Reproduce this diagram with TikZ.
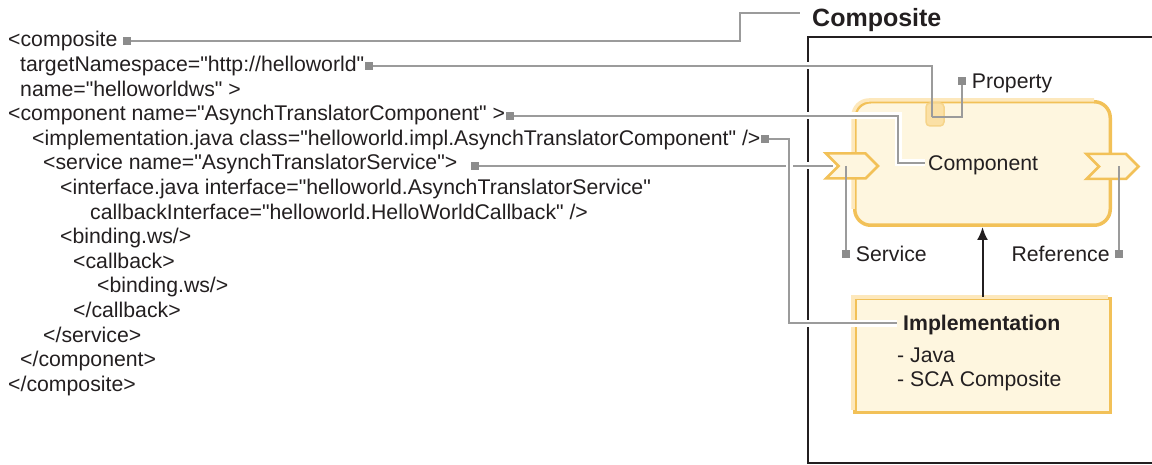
\documentclass[tikz,border=0pt]{standalone}
\usepackage{fontspec}
\setmainfont{Liberation Sans}[Ligatures=TeXOff]
\usetikzlibrary{positioning, arrows.meta, calc, shapes.symbols}
\definecolor{SCAink}{RGB}{35,31,32}
\definecolor{SCAgray}{RGB}{155,155,155}
\definecolor{SCAsq}{RGB}{140,140,140}
\definecolor{SCAfill}{RGB}{254,246,223}
\definecolor{SCAedge}{RGB}{242,193,88}
\definecolor{SCAlight}{RGB}{253,232,188}
\definecolor{SCAtab}{RGB}{251,224,165}
\tikzset{
  xmlline/.style={anchor=base west, inner sep=0pt, text=SCAink, font=\fontsize{21.25}{25}\selectfont},
  lbl/.style={inner sep=0pt, text height=15pt, text depth=0pt, text=SCAink, font=\fontsize{21.25}{25}\selectfont},
  endsq/.style={rectangle, fill=SCAsq, minimum size=8pt, inner sep=0pt},
  leadplain/.style={SCAgray, line width=2pt},
  lead/.style={leadplain, preaction={draw=white, line width=7pt}},
  box/.style={rectangle, fill=SCAfill, draw=SCAedge, line width=3.5pt, inner sep=0pt},
  bevel/.style={SCAlight, line width=3.5pt},
  port/.style={signal, signal from=west, signal to=east, signal pointer angle=90,
    fill=SCAfill, draw=SCAedge, line width=2.5pt, minimum width=52pt, minimum height=25pt, inner sep=0pt},
  cframe/.style={SCAink, line width=2pt},
  uses/.style={-{Latex[length=13pt, width=11pt]}, SCAink, line width=2pt},
}

\begin{document}
\begin{tikzpicture}[x=1pt, y=-1pt]
    \useasboundingbox (0,0) rectangle (1152,465);
    \draw[cframe] (1152,37) -- (808,37) -- (808,463) -- (1152,463);
    \node[anchor=base west, inner sep=0pt, text=SCAink, font=\bfseries\fontsize{25}{30}\selectfont] (title) at (812,27) {Composite};
    \coordinate (titleEnd) at (800,13);

    % component and implementation
    \node[box, rounded corners=16pt, minimum width=255.5pt, minimum height=123.5pt] (compBox) at (982.5,163.5) {};
    \draw[bevel, rounded corners=16pt] ([yshift=18pt]compBox.south west) -- (compBox.north west) -- ([xshift=-18pt]compBox.north east);
    \node[box, minimum width=255.5pt, minimum height=113.5pt] (implBox) at (982.5,355.5) {};
    \draw[bevel] ([yshift=4pt]implBox.south west) -- (implBox.north west) -- ([xshift=-4pt]implBox.north east);
    \node[rectangle, rounded corners=4pt, fill=SCAtab, draw=SCAedge!70, line width=1.5pt, minimum width=18pt, minimum height=23pt, inner sep=0pt] (propTab) at (935,114.5) {};
    \node[port] (svcPort) at (852,166) {};
    \node[port] (refPort) at (1112.5,166.5) {};

    \node[lbl, anchor=west] (compLbl) at (928,163) {Component};
    \node[lbl, anchor=west, font=\bfseries\fontsize{21.25}{25}\selectfont] (implTitle) at (903,323) {Implementation};
    \node[lbl, anchor=west] (implJava) at (897,355) {- Java};
    \node[lbl, anchor=west] (implSca) at (897,379) {- SCA Composite};

    % xml source
    \node[xmlline] (l1) at (8,47) {<composite};
    \node[xmlline] (l2) at (20,71.6) {targetNamespace="http://helloworld"};
    \node[xmlline] (l3) at (20,96.2) {name="helloworldws" >};
    \node[xmlline] (l4) at (8,120.8) {<component name="AsynchTranslatorComponent" >};
    \node[xmlline] (l5) at (32,145.4) {<implementation.java class="helloworld.impl.AsynchTranslatorComponent" />};
    \node[xmlline] (l6) at (43,170) {<service name="AsynchTranslatorService">};
    \node[xmlline] (l7) at (60,194.6) {<interface.java interface="helloworld.AsynchTranslatorService"};
    \node[xmlline] (l8) at (90,219.2) {callbackInterface="helloworld.HelloWorldCallback" />};
    \node[xmlline] (l9) at (60,243.8) {<binding.ws/>};
    \node[xmlline] (l10) at (73,268.4) {<callback>};
    \node[xmlline] (l11) at (97,293) {<binding.ws/>};
    \node[xmlline] (l12) at (73,317.6) {</callback>};
    \node[xmlline] (l13) at (43,342.2) {</service>};
    \node[xmlline] (l14) at (20,366.8) {</component>};
    \node[xmlline] (l15) at (8,391.4) {</composite>};

    % leader squares and labels
    \node[endsq] (sqComp) at (127,41) {};
    \node[endsq] (sqNs) at (369,66) {};
    \node[endsq] (sqCmp) at (509.5,116) {};
    \node[endsq] (sqImpl) at (765,139.5) {};
    \node[endsq] (sqSvc) at (475,166) {};
    \node[endsq] (sqProp) at (961.5,81) {};
    \node[endsq] (sqService) at (845.5,254.5) {};
    \node[endsq] (sqRef) at (1119,254.5) {};
    \node[lbl, right=6pt of sqProp] (propLbl) {Property};
    \node[lbl, right=6pt of sqService] (svcLbl) {Service};
    \node[lbl, left=5pt of sqRef] (refLbl) {Reference};

    \coordinate (nsDrop) at (932,96);
    \coordinate (tabIn) at (932,117);
    \coordinate (svcIn) at ($(svcPort.center)+(-19,0)$);
    \draw[lead] (sqComp) -- (740,41) |- (titleEnd);
    \draw[lead] (sqNs) -| (nsDrop);
    \draw[leadplain] (nsDrop) -- (tabIn);
    \draw[leadplain] (sqProp) |- (tabIn);
    \draw[lead] (sqCmp) -- (898,116) |- ([xshift=-3pt]compLbl.west);
    \draw[lead] (sqSvc) -- (svcIn);
    \draw[lead] (sqImpl) -- (789,139.5) |- ([xshift=-6pt]implTitle.west);
    \draw[leadplain] (sqService |- svcPort.center) -- (sqService);
    \draw[leadplain] (sqRef |- refPort.center) -- (sqRef);
    \draw[uses] (implBox) -- (compBox);
\end{tikzpicture}
\end{document}
